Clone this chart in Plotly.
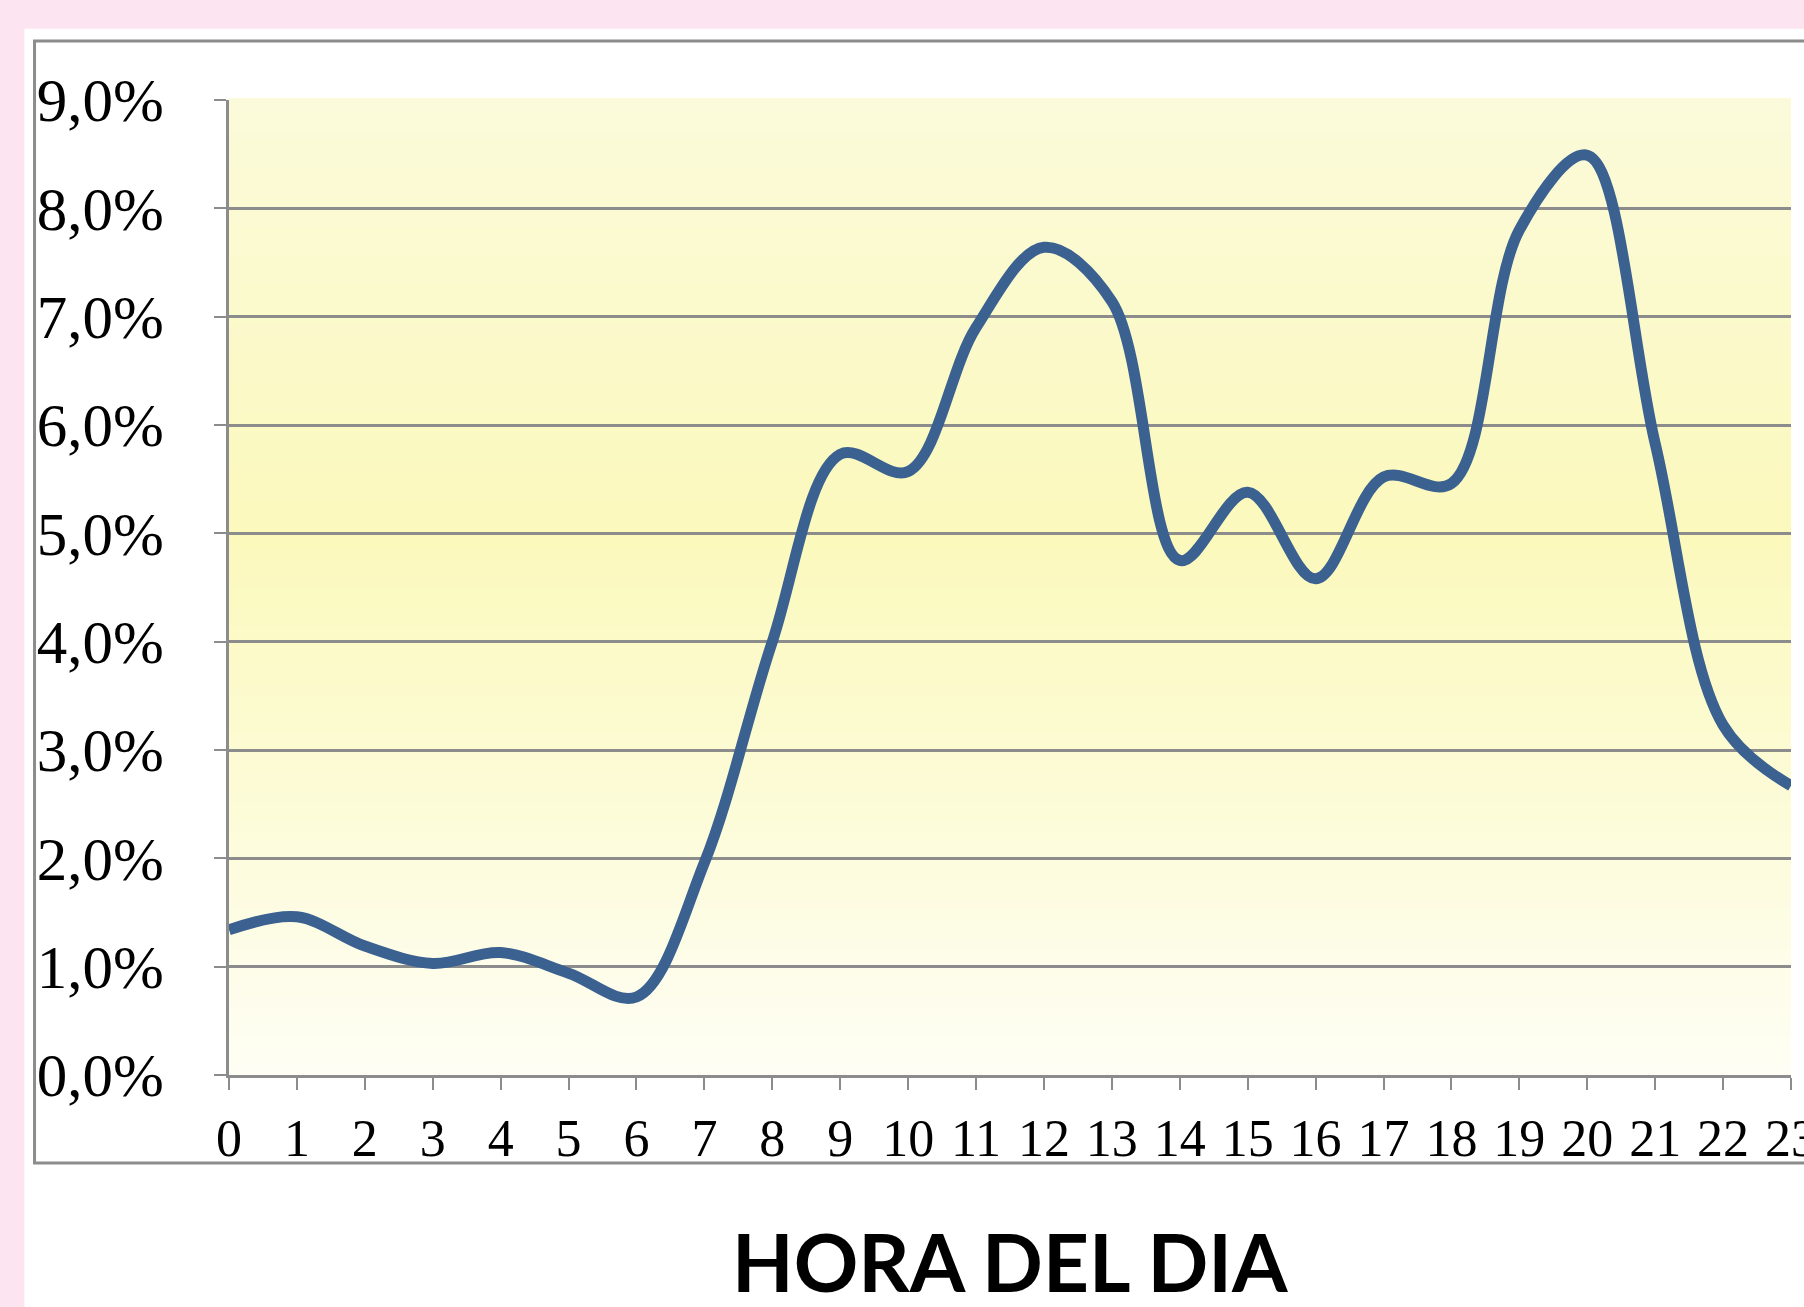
import plotly.graph_objects as go

# datos
horas = list(range(24))
porcentaje = [1.34, 1.46, 1.19, 1.03, 1.13, 0.94, 0.72, 1.96, 4.0, 5.73, 5.57, 6.9,
              7.64, 7.14, 4.75, 5.38, 4.58, 5.52, 5.46, 7.8, 8.49, 5.83, 3.23, 2.67]
y_ticks = [0, 1, 2, 3, 4, 5, 6, 7, 8, 9]
y_labels = ["0,0%", "1,0%", "2,0%", "3,0%", "4,0%", "5,0%", "6,0%", "7,0%", "8,0%", "9,0%"]
x_labels = [str(h) for h in horas]


def mezcla(c1, c2, t):
    return "rgb(%d,%d,%d)" % tuple(round(a + (b - a) * t) for a, b in zip(c1, c2))


# degradado amarillo del área de trazado (claro arriba, intenso al centro, casi blanco abajo)
arriba = (251, 250, 218)
centro = (251, 249, 188)
abajo = (254, 254, 244)

shapes = [
    # fondo blanco sobre el rosa
    dict(type="rect", xref="paper", yref="paper", x0=-0.131, x1=1.06, y0=-0.25, y1=1.073,
         fillcolor="white", line_width=0, layer="below"),
]
n = 100
for i in range(n):
    t = i / (n - 1)  # 0 abajo, 1 arriba
    if t < 0.55:
        c = mezcla(abajo, centro, t / 0.55)
    else:
        c = mezcla(centro, arriba, (t - 0.55) / 0.45)
    shapes.append(dict(type="rect", xref="paper", yref="paper", x0=0, x1=1,
                       y0=i / n, y1=(i + 1) / n + 0.002, fillcolor=c, line_width=0, layer="below"))
# marco del gráfico
shapes.append(dict(type="rect", xref="paper", yref="paper", x0=-0.1245, x1=1.05, y0=-0.0903, y1=1.0605,
                   line=dict(color="#8c8c8c", width=3), fillcolor="rgba(0,0,0,0)", layer="below"))

fig = go.Figure()
fig.add_trace(
    go.Scatter(
        x=horas,
        y=porcentaje,
        mode="lines",
        line=dict(shape="spline", smoothing=1.0, color="#3B6190", width=11),
        showlegend=False,
        hoverinfo="skip",
    )
)

fig.add_annotation(
    text="<b>HORA DEL DIA</b>", xref="paper", yref="paper", x=0.5, y=-0.191,
    xanchor="center", yanchor="middle", showarrow=False,
    font=dict(family="Lato", size=80, color="black"),
)

fig.update_layout(
    width=1804,
    height=1307,
    margin=dict(l=229, r=13, t=100, b=232, autoexpand=False),
    paper_bgcolor="#FCE5F0",
    plot_bgcolor="rgba(0,0,0,0)",
    shapes=shapes,
    xaxis=dict(
        range=[0, 23],
        tickvals=horas,
        ticktext=x_labels,
        showgrid=False,
        zeroline=False,
        showline=True,
        linecolor="#8c8c8c",
        linewidth=3,
        ticks="outside",
        ticklen=12,
        tickwidth=2,
        tickcolor="#8c8c8c",
        ticklabelstandoff=4,
        ticklabeloverflow="allow",
        automargin=False,
        tickfont=dict(family="Liberation Serif", size=52, color="black"),
    ),
    yaxis=dict(
        range=[0, 9],
        tickvals=y_ticks,
        ticktext=y_labels,
        showgrid=True,
        gridcolor="#8c8c8c",
        gridwidth=2.5,
        zeroline=False,
        showline=True,
        linecolor="#8c8c8c",
        linewidth=3,
        ticks="outside",
        ticklen=12,
        tickwidth=2,
        tickcolor="#8c8c8c",
        ticklabelstandoff=38,
        automargin=False,
        tickfont=dict(family="Liberation Serif", size=61, color="black"),
    ),
)

# sin margen del body para que la figura ocupe la ventana exacta
fig.write_html(
    "out.html",
    config={"displayModeBar": False},
    post_script="document.body.style.margin='0';",
)
